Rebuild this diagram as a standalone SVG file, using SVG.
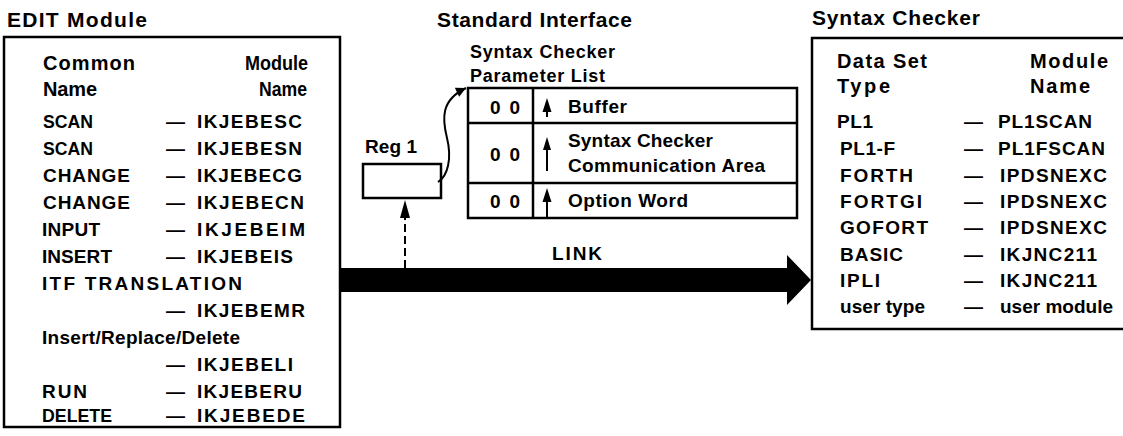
<svg xmlns="http://www.w3.org/2000/svg" width="1123" height="436" viewBox="0 0 1123 436">
<style>
text{font-family:"Liberation Sans",Arial,sans-serif;font-weight:bold;fill:#000}
.t{font-size:21px}
.h{font-size:20px}
.b{font-size:19px}
.s{font-size:18px}
.box{fill:#fff;stroke:#000;stroke-width:2.5}
.ln{fill:none;stroke:#000;stroke-width:2.5}
.thin{fill:none;stroke:#000;stroke-width:2}
</style>
<defs>
<marker id="ah" viewBox="0 0 10 10" refX="10" refY="5" markerWidth="14" markerHeight="10" orient="auto" markerUnits="userSpaceOnUse">
<path d="M0,0 L10,5 L0,10 z" fill="#000"/>
</marker>
</defs>
<rect width="1123" height="436" fill="#fff"/>

<g id="edit-module">
<text class="t" x="7" y="27" textLength="140">EDIT Module</text>
<rect class="box" x="4" y="37" width="336" height="390"/>
<text class="h" x="43" y="70" textLength="92">Common</text>
<text class="h" x="245" y="70" textLength="63" lengthAdjust="spacingAndGlyphs">Module</text>
<text class="h" x="43" y="96" textLength="54">Name</text>
<text class="h" x="259" y="96" textLength="48" lengthAdjust="spacingAndGlyphs">Name</text>
<text class="b" x="43" y="128" textLength="50" lengthAdjust="spacingAndGlyphs">SCAN</text><text class="b" x="166" y="128">—</text><text class="b" x="197" y="128" textLength="105">IKJEBESC</text>
<text class="b" x="43" y="155" textLength="50" lengthAdjust="spacingAndGlyphs">SCAN</text><text class="b" x="166" y="155">—</text><text class="b" x="197" y="155" textLength="105">IKJEBESN</text>
<text class="b" x="43" y="182" textLength="87">CHANGE</text><text class="b" x="166" y="182">—</text><text class="b" x="197" y="182" textLength="105">IKJEBECG</text>
<text class="b" x="43" y="209" textLength="87">CHANGE</text><text class="b" x="166" y="209">—</text><text class="b" x="197" y="209" textLength="107">IKJEBECN</text>
<text class="b" x="42" y="236" textLength="58">INPUT</text><text class="b" x="166" y="236">—</text><text class="b" x="197" y="236" textLength="108">IKJEBEIM</text>
<text class="b" x="42" y="263" textLength="70">INSERT</text><text class="b" x="166" y="263">—</text><text class="b" x="197" y="263" textLength="96">IKJEBEIS</text>
<text class="b" x="42" y="290" textLength="200">ITF TRANSLATION</text>
<text class="b" x="166" y="317">—</text><text class="b" x="197" y="317" textLength="108">IKJEBEMR</text>
<text class="b" x="42" y="344" textLength="198">Insert/Replace/Delete</text>
<text class="b" x="166" y="371">—</text><text class="b" x="197" y="371" textLength="96">IKJEBELI</text>
<text class="b" x="42" y="398" textLength="45">RUN</text><text class="b" x="166" y="398">—</text><text class="b" x="197" y="398" textLength="105">IKJEBERU</text>
<text class="b" x="42" y="422" textLength="70" lengthAdjust="spacingAndGlyphs">DELETE</text><text class="b" x="166" y="422">—</text><text class="b" x="197" y="422" textLength="108">IKJEBEDE</text>
</g>

<g id="standard-interface">
<text class="t" x="437" y="27" textLength="195">Standard Interface</text>
</g>

<g id="parameter-list">
<text class="s" x="470" y="58" textLength="145">Syntax Checker</text>
<text class="s" x="470" y="82" textLength="135">Parameter List</text>
<rect class="box" x="468" y="88" width="329" height="130"/>
<line class="ln" x1="468" y1="123" x2="797" y2="123"/>
<line class="ln" x1="468" y1="183" x2="797" y2="183"/>
<line class="ln" x1="533" y1="88" x2="533" y2="218"/>
<text class="b" x="490" y="114" textLength="30">0 0</text>
<text class="b" x="490" y="161" textLength="30">0 0</text>
<text class="b" x="490" y="208" textLength="30">0 0</text>
<path d="M547,98 L551.5,112 L542.5,112 z" fill="#000"/><line class="thin" x1="547" y1="108" x2="547" y2="117"/>
<path d="M547,137 L551,150 L543,150 z" fill="#000"/><line class="thin" x1="547" y1="147" x2="547" y2="171"/>
<path d="M547,188 L551.5,202 L542.5,202 z" fill="#000"/><line class="thin" x1="547" y1="198" x2="547" y2="218"/>
<text class="b" x="568" y="113" textLength="59">Buffer</text>
<text class="b" x="568" y="147" textLength="145">Syntax Checker</text>
<text class="b" x="568" y="172" textLength="197">Communication Area</text>
<text class="b" x="568" y="207" textLength="120">Option Word</text>
</g>

<g id="reg1">
<text class="b" x="365" y="153" textLength="52">Reg 1</text>
<rect class="box" x="363" y="164" width="78" height="34"/>
</g>

<g id="syntax-checker">
<text class="t" x="812" y="25" textLength="168">Syntax Checker</text>
<rect class="box" x="812" y="38" width="330" height="291"/>
<text class="h" x="837" y="68" textLength="90">Data Set</text>
<text class="h" x="837" y="93" textLength="53">Type</text>
<text class="h" x="1030" y="68" textLength="78">Module</text>
<text class="h" x="1030" y="93" textLength="60">Name</text>
<text class="b" x="837" y="128" textLength="36">PL1</text><text class="b" x="964" y="128">—</text><text class="b" x="998" y="128" textLength="94">PL1SCAN</text>
<text class="b" x="840" y="155" textLength="55">PL1-F</text><text class="b" x="964" y="155">—</text><text class="b" x="998" y="155" textLength="107">PL1FSCAN</text>
<text class="b" x="840" y="182" textLength="73">FORTH</text><text class="b" x="964" y="182">—</text><text class="b" x="1000" y="182" textLength="107">IPDSNEXC</text>
<text class="b" x="840" y="208" textLength="82">FORTGI</text><text class="b" x="964" y="208">—</text><text class="b" x="1000" y="208" textLength="107">IPDSNEXC</text>
<text class="b" x="840" y="234" textLength="88">GOFORT</text><text class="b" x="964" y="234">—</text><text class="b" x="1000" y="234" textLength="107">IPDSNEXC</text>
<text class="b" x="840" y="261" textLength="63">BASIC</text><text class="b" x="964" y="261">—</text><text class="b" x="1000" y="261" textLength="97">IKJNC211</text>
<text class="b" x="840" y="287" textLength="40">IPLI</text><text class="b" x="964" y="287">—</text><text class="b" x="1000" y="287" textLength="97">IKJNC211</text>
<text class="b" x="840" y="313" textLength="85">user type</text><text class="b" x="964" y="313">—</text><text class="b" x="1000" y="313" textLength="113">user module</text>
</g>

<g id="connectors">
<path class="thin" d="M438,182 C448,176 452,158 447,138 C442,118 441,100 466,88" marker-end="url(#ah)"/>
<line x1="405" y1="268" x2="405" y2="216" stroke="#000" stroke-width="2" stroke-dasharray="8,4"/>
<path d="M405,200 L410,218 L400,218 z" fill="#000"/>
<polygon points="340,268 787,268 787,255 811,280 787,305 787,292 340,292" fill="#000"/>
<text class="b" x="552" y="260" textLength="50">LINK</text>
</g>
</svg>
